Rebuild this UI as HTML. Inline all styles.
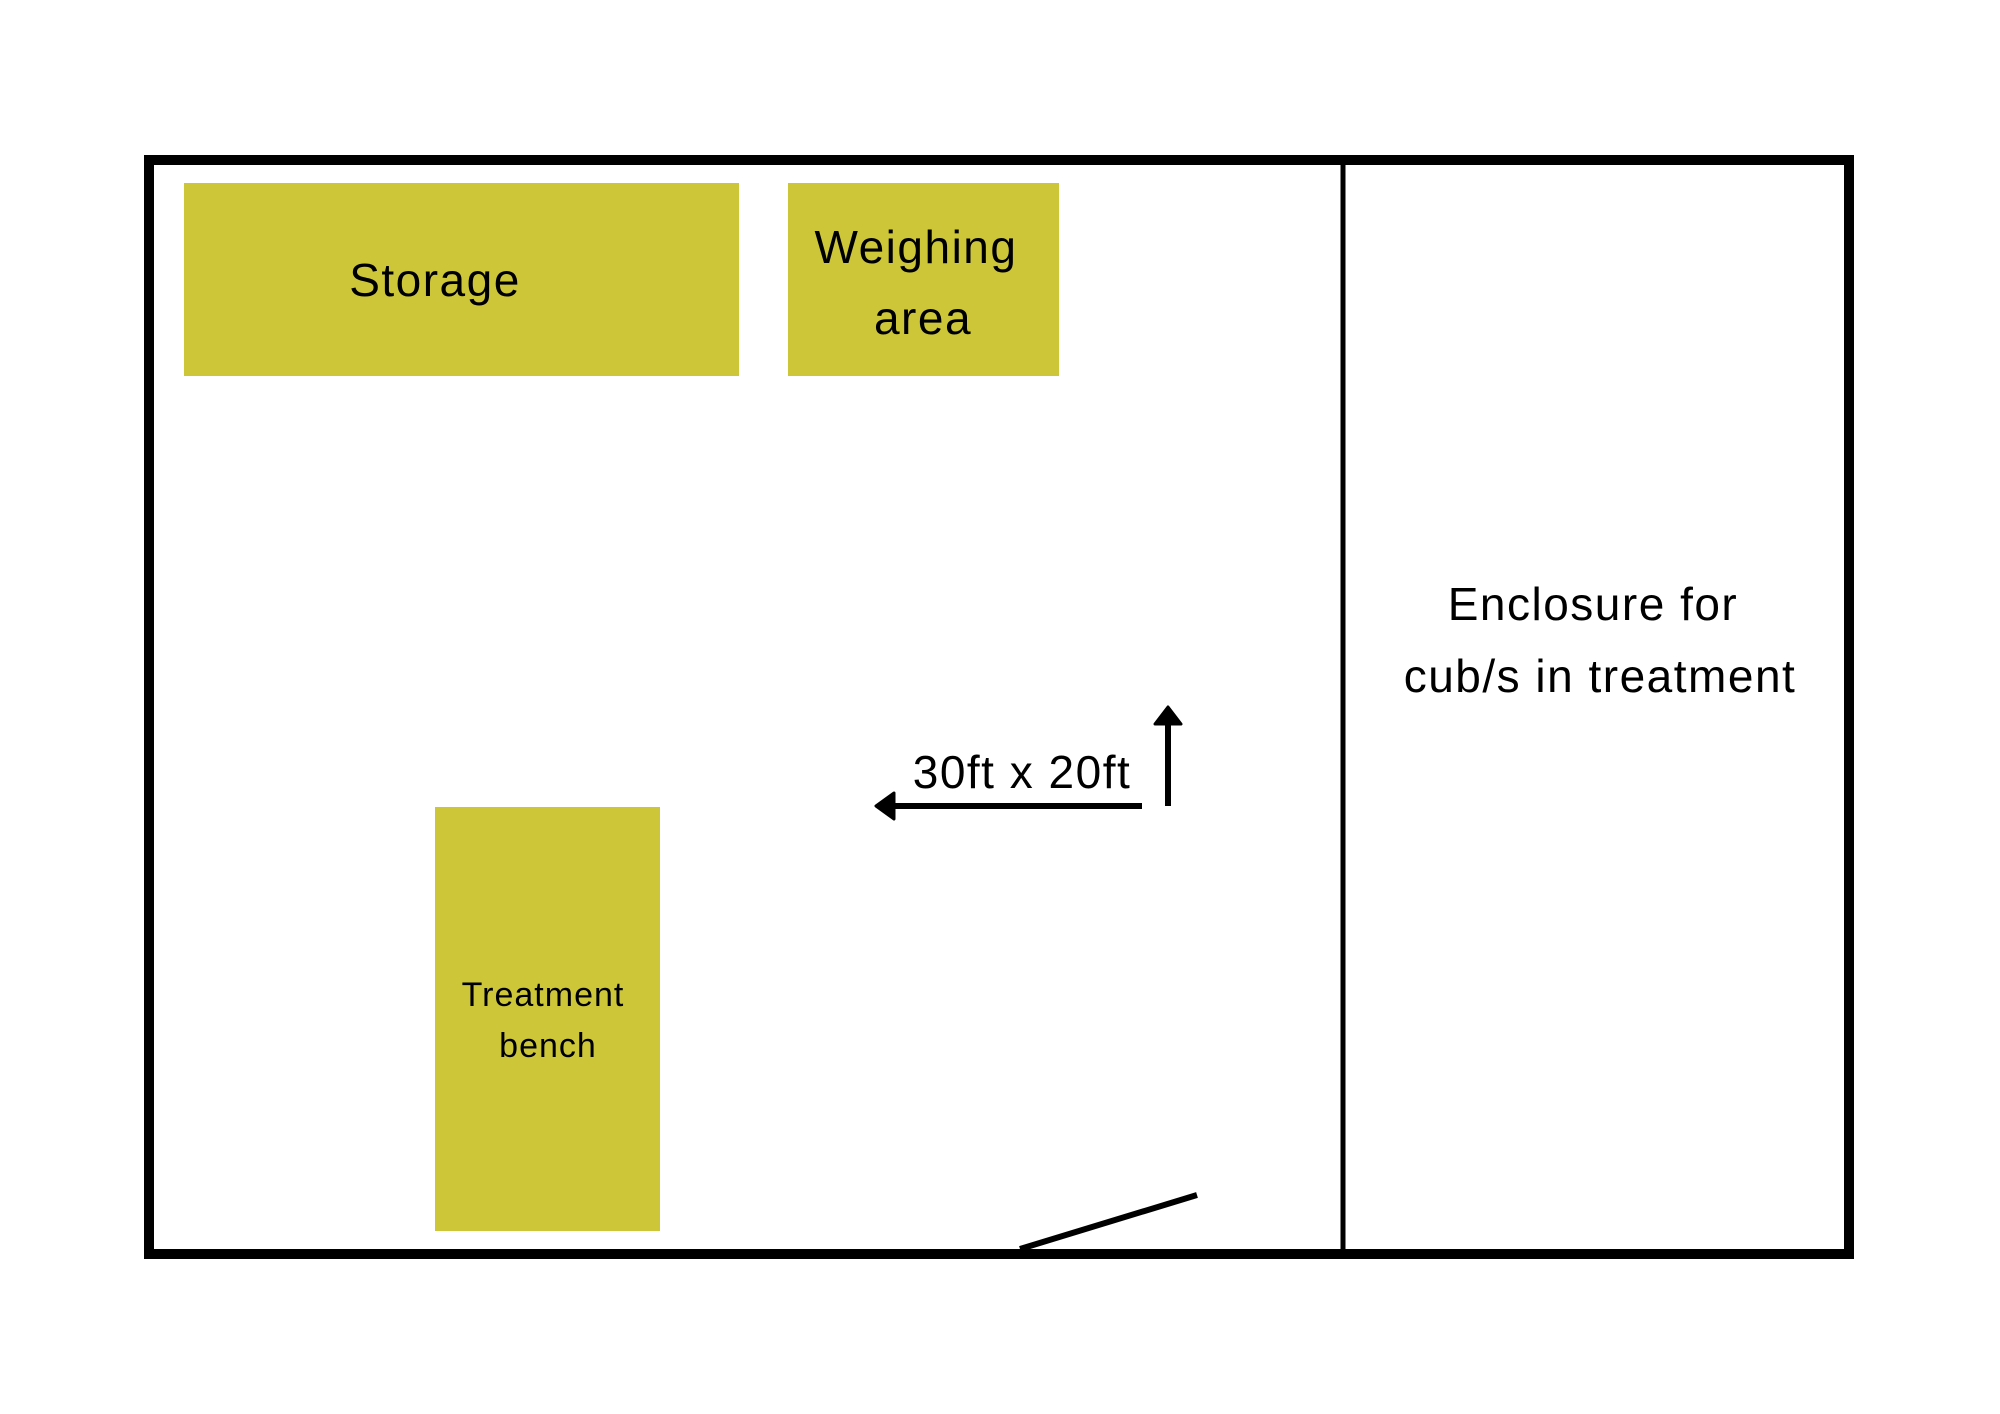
<!DOCTYPE html>
<html><head><style>
html,body{margin:0;padding:0;background:#fff;}
svg{display:block;}
text{font-family:"Liberation Sans",sans-serif;fill:#000;}
</style></head><body>
<svg width="2000" height="1414" viewBox="0 0 2000 1414" xmlns="http://www.w3.org/2000/svg">
<rect x="0" y="0" width="2000" height="1414" fill="#fff"/>
<rect x="184" y="183" width="555" height="193" fill="#CCC638"/>
<rect x="788" y="183" width="271" height="193" fill="#CCC638"/>
<rect x="435" y="807" width="225" height="424" fill="#CCC638"/>
<rect x="149" y="160" width="1700" height="1094" fill="none" stroke="#000" stroke-width="10"/>
<line x1="1343" y1="156" x2="1343" y2="1258" stroke="#000" stroke-width="5"/>
<line x1="1020" y1="1249" x2="1197" y2="1195" stroke="#000" stroke-width="6"/>
<line x1="1142" y1="806" x2="890" y2="806" stroke="#000" stroke-width="6"/>
<polygon points="894,793 876,806 894,819" fill="#000" stroke="#000" stroke-width="3" stroke-linejoin="round"/>
<line x1="1168" y1="806" x2="1168" y2="722" stroke="#000" stroke-width="6"/>
<polygon points="1155,724 1168,707 1181,724" fill="#000" stroke="#000" stroke-width="3" stroke-linejoin="round"/>
<g text-anchor="middle" font-size="46" letter-spacing="1.5">
<text x="435" y="296">Storage</text>
<text x="916" y="263">Weighing</text>
<text x="923" y="334">area</text>
<text x="1593" y="620">Enclosure for</text>
<text x="1600" y="692">cub/s in treatment</text>
<text x="1022" y="788">30ft x 20ft</text>
<text x="543" y="1006" font-size="34" letter-spacing="1">Treatment</text>
<text x="548" y="1057" font-size="34" letter-spacing="1">bench</text>
</g>
</svg>
</body></html>
